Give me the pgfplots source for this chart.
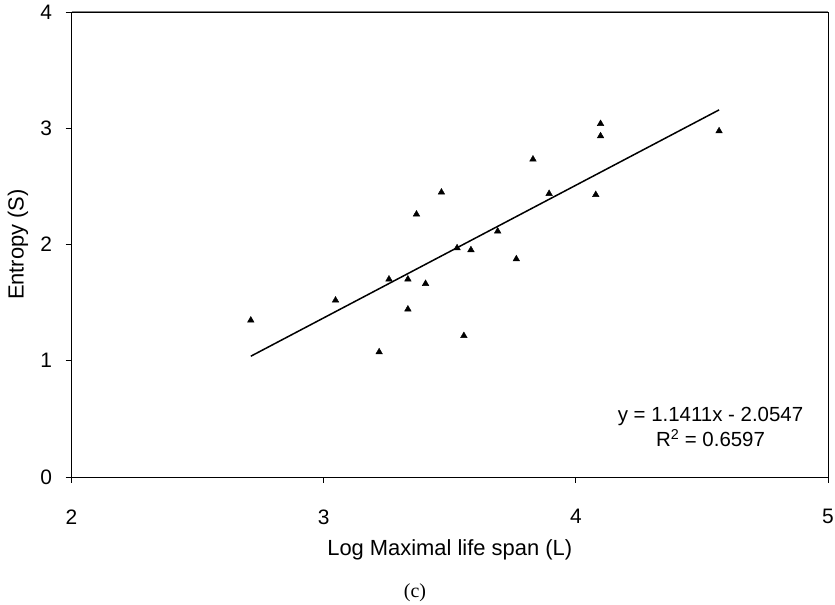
\documentclass[border=0pt]{standalone}
\usepackage{fontspec}
\setmainfont{Liberation Sans}
\newfontfamily\capfont{Liberation Serif}
\usepackage{pgfplots}
\pgfplotsset{compat=1.18}
\begin{document}
\begin{tikzpicture}[x=1bp,y=1bp]
\path[use as bounding box] (0,0) rectangle (835,605);
\begin{axis}[
  at={(71.5bp,128bp)}, anchor=south west,
  scale only axis, width=756.5bp, height=465bp,
  xmin=2, xmax=5, ymin=0, ymax=4,
  xtick={2,3,4,5}, ytick={0,1,2,3,4},
  tick align=outside, xtick pos=bottom, ytick pos=left,
  major tick length=6bp,
  axis line style={black, line width=0.9bp},
  every tick/.style={black, line width=0.9bp},
  /pgf/number format/assume math mode=true,
  tick label style={font=\fontsize{21}{25}\selectfont},
  xticklabel style={yshift=-23bp},
  yticklabel style={xshift=-10bp},
  label style={font=\fontsize{22}{26}\selectfont},
  xlabel={Log Maximal life span (L)},
  ylabel={Entropy (S)},
  xlabel style={at={(axis description cs:0.5,-0.157)}, anchor=center},
  ylabel style={at={(axis description cs:-0.0707,0.5)}, anchor=center},
  clip=false,
]
\addplot[only marks, mark=triangle*, mark size=3.8bp, mark options={fill=black, draw=black}] coordinates {
(2.711,1.348) (3.047,1.520) (3.220,1.075) (3.259,1.701) (3.334,1.701)
(3.334,1.443) (3.368,2.260) (3.404,1.663) (3.467,2.449) (3.529,1.970)
(3.556,1.215) (3.584,1.953) (3.690,2.114) (3.764,1.875) (3.830,2.733)
(3.894,2.437) (4.079,2.428) (4.098,3.039) (4.098,2.933) (4.568,2.976)
};
\addplot[black, line width=1.5bp] coordinates {(2.711,1.0388) (4.568,3.1578)};
\draw[gray, line width=1bp] (rel axis cs:0,1) -- (rel axis cs:1,1);
\node[align=center, font=\fontsize{20.5}{26}\selectfont, anchor=center] at (axis cs:4.534,0.43) {y = 1.1411x - 2.0547\\R\textsuperscript{2} = 0.6597};
\end{axis}
\node[font=\capfont\fontsize{20}{24}\selectfont] at (415,12) {(c)};
\end{tikzpicture}
\end{document}
